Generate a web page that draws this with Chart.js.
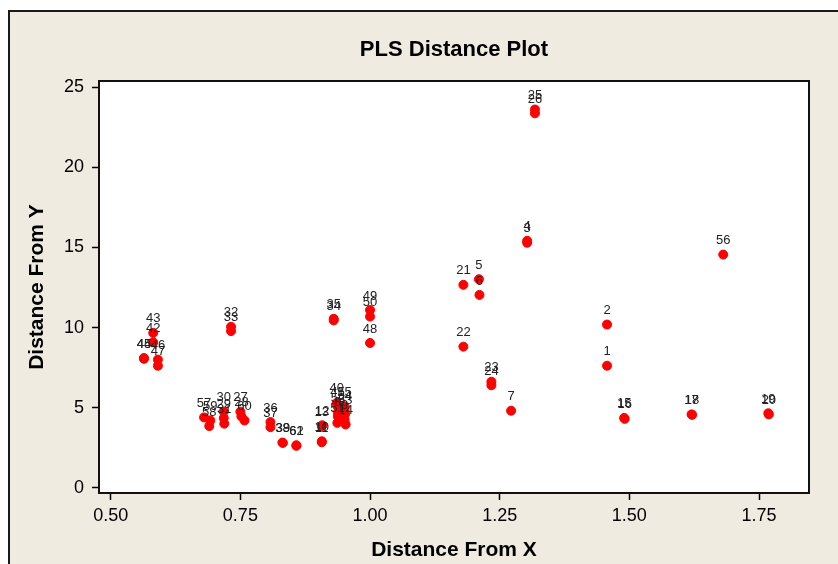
<!DOCTYPE html>
<html>
<head>
<meta charset="utf-8">
<script src="https://cdn.jsdelivr.net/npm/chart.js@4/dist/chart.umd.min.js"></script>
<style>
  html, body { margin: 0; padding: 0; background: #ffffff; }
  #wrap { width: 838px; height: 564px; position: relative; }
  canvas { display: block; }
</style>
</head>
<body>
<div id="wrap"><canvas id="c" width="838" height="564"></canvas></div>
<script>
// ---- data ----
const titleText = "PLS Distance Plot";
const xTitle = "Distance From X";
const yTitle = "Distance From Y";
const pointIds = [1,2,3,4,5,6,7,8,9,10,11,12,13,14,15,16,17,18,19,20,21,22,23,24,25,26,27,28,29,30,31,32,33,34,35,36,37,38,39,40,41,42,43,44,45,46,47,48,49,50,51,52,53,54,55,56,57,58,59,60,61,62];
const distanceX = [1.457,1.457,1.303,1.303,1.210,1.211,1.272,0.938,0.951,0.907,0.907,0.908,0.907,0.953,1.490,1.491,1.620,1.621,1.768,1.769,1.180,1.180,1.234,1.234,1.318,1.318,0.750,0.752,0.718,0.718,0.719,0.732,0.732,0.930,0.930,0.808,0.808,0.831,0.832,0.936,0.937,0.582,0.582,0.564,0.564,0.591,0.591,1.000,1.000,1.000,0.937,0.938,0.952,0.951,0.951,1.681,0.680,0.690,0.692,0.758,0.858,0.858];
const distanceY = [7.62,10.19,15.30,15.42,13.02,12.04,4.81,4.45,4.25,2.90,2.84,3.90,3.85,3.95,4.36,4.30,4.58,4.55,4.65,4.58,12.67,8.81,6.62,6.40,23.62,23.38,4.75,4.45,4.35,4.75,4.00,10.05,9.78,10.45,10.55,4.10,3.78,2.82,2.80,5.30,5.10,9.08,9.67,8.05,8.10,8.00,7.62,9.04,11.10,10.69,4.05,4.70,4.60,4.85,5.05,14.56,4.39,3.85,4.20,4.20,2.65,2.62];
const xTicks = [0.50, 0.75, 1.00, 1.25, 1.50, 1.75];
const yTicks = [0, 5, 10, 15, 20, 25];

const points = pointIds.map((id, i) => ({ x: distanceX[i], y: distanceY[i], id: id }));

const FONT = "'Liberation Sans', Arial, Helvetica, sans-serif";

const decor = {
  id: 'decor',
  beforeDraw(chart) {
    const { ctx, chartArea: a } = chart;
    ctx.save();
    ctx.fillStyle = '#ffffff';
    ctx.fillRect(0, 0, chart.width, chart.height);
    ctx.fillStyle = '#EFEBE1';
    ctx.fillRect(9, 11, chart.width - 9, chart.height - 11);
    ctx.strokeStyle = '#1a1a1a';
    ctx.lineWidth = 2;
    ctx.beginPath();
    ctx.moveTo(9, chart.height);
    ctx.lineTo(9, 11);
    ctx.lineTo(chart.width, 11);
    ctx.stroke();
    ctx.fillStyle = '#ffffff';
    ctx.fillRect(a.left, a.top, a.right - a.left, a.bottom - a.top);
    ctx.restore();
  },
  afterDraw(chart) {
    const { ctx, chartArea: a } = chart;
    ctx.save();
    ctx.strokeStyle = '#111111';
    ctx.lineWidth = 2;
    ctx.strokeRect(a.left, a.top, a.right - a.left, a.bottom - a.top);
    ctx.fillStyle = '#000000';
    ctx.font = 'bold 22px ' + FONT;
    ctx.textAlign = 'center';
    ctx.textBaseline = 'middle';
    ctx.fillText(titleText, (a.left + a.right) / 2, 50);
    ctx.restore();
  },
  afterDatasetsDraw(chart) {
    const { ctx } = chart;
    const meta = chart.getDatasetMeta(0);
    ctx.save();
    ctx.fillStyle = '#222222';
    ctx.font = '13px ' + FONT;
    ctx.textAlign = 'center';
    ctx.textBaseline = 'middle';
    meta.data.forEach((el, i) => {
      ctx.fillText(String(points[i].id), el.x, el.y - 14);
    });
    ctx.restore();
  }
};

new Chart(document.getElementById('c'), {
  type: 'scatter',
  data: {
    datasets: [{
      data: points,
      backgroundColor: 'rgb(255,0,0)',
      borderColor: 'rgb(255,0,0)',
      borderWidth: 1,
      pointRadius: 4.5,
      pointHoverRadius: 4.5
    }]
  },
  options: {
    responsive: false,
    animation: false,
    events: [],
    layout: { padding: { top: 81, right: 29, bottom: 0, left: 0 } },
    plugins: { legend: { display: false }, title: { display: false }, tooltip: { enabled: false } },
    scales: {
      x: {
        type: 'linear',
        min: 0.4774,
        max: 1.8464,
        afterBuildTicks: s => { s.ticks = xTicks.map(v => ({ value: v })); },
        afterFit: s => { s.height = 71; s.paddingLeft = 0; s.paddingRight = 0; },
        ticks: {
          includeBounds: false,
          color: '#000000',
          font: { family: FONT, size: 18 },
          padding: 5,
          maxRotation: 0,
          callback: v => Number(v).toFixed(2)
        },
        grid: { display: true, drawOnChartArea: false, drawTicks: true, tickLength: 7, tickColor: '#000000', tickWidth: 1.5 },
        border: { display: false },
        title: { display: true, text: xTitle, color: '#000000', font: { family: FONT, size: 21, weight: 'bold' }, padding: { top: 0, bottom: 1 } }
      },
      y: {
        type: 'linear',
        min: -0.33,
        max: 25.4,
        afterBuildTicks: s => { s.ticks = yTicks.map(v => ({ value: v })); },
        afterFit: s => { s.width = 99; s.paddingTop = 0; s.paddingBottom = 0; },
        ticks: {
          includeBounds: false,
          color: '#000000',
          font: { family: FONT, size: 18 },
          padding: 8,
          callback: v => String(v)
        },
        grid: { display: true, drawOnChartArea: false, drawTicks: true, tickLength: 7, tickColor: '#000000', tickWidth: 1.5 },
        border: { display: false },
        title: { display: true, text: yTitle, color: '#000000', font: { family: FONT, size: 21, weight: 'bold' }, padding: { top: 25, bottom: 0 } }
      }
    }
  },
  plugins: [decor]
});
</script>
</body>
</html>
